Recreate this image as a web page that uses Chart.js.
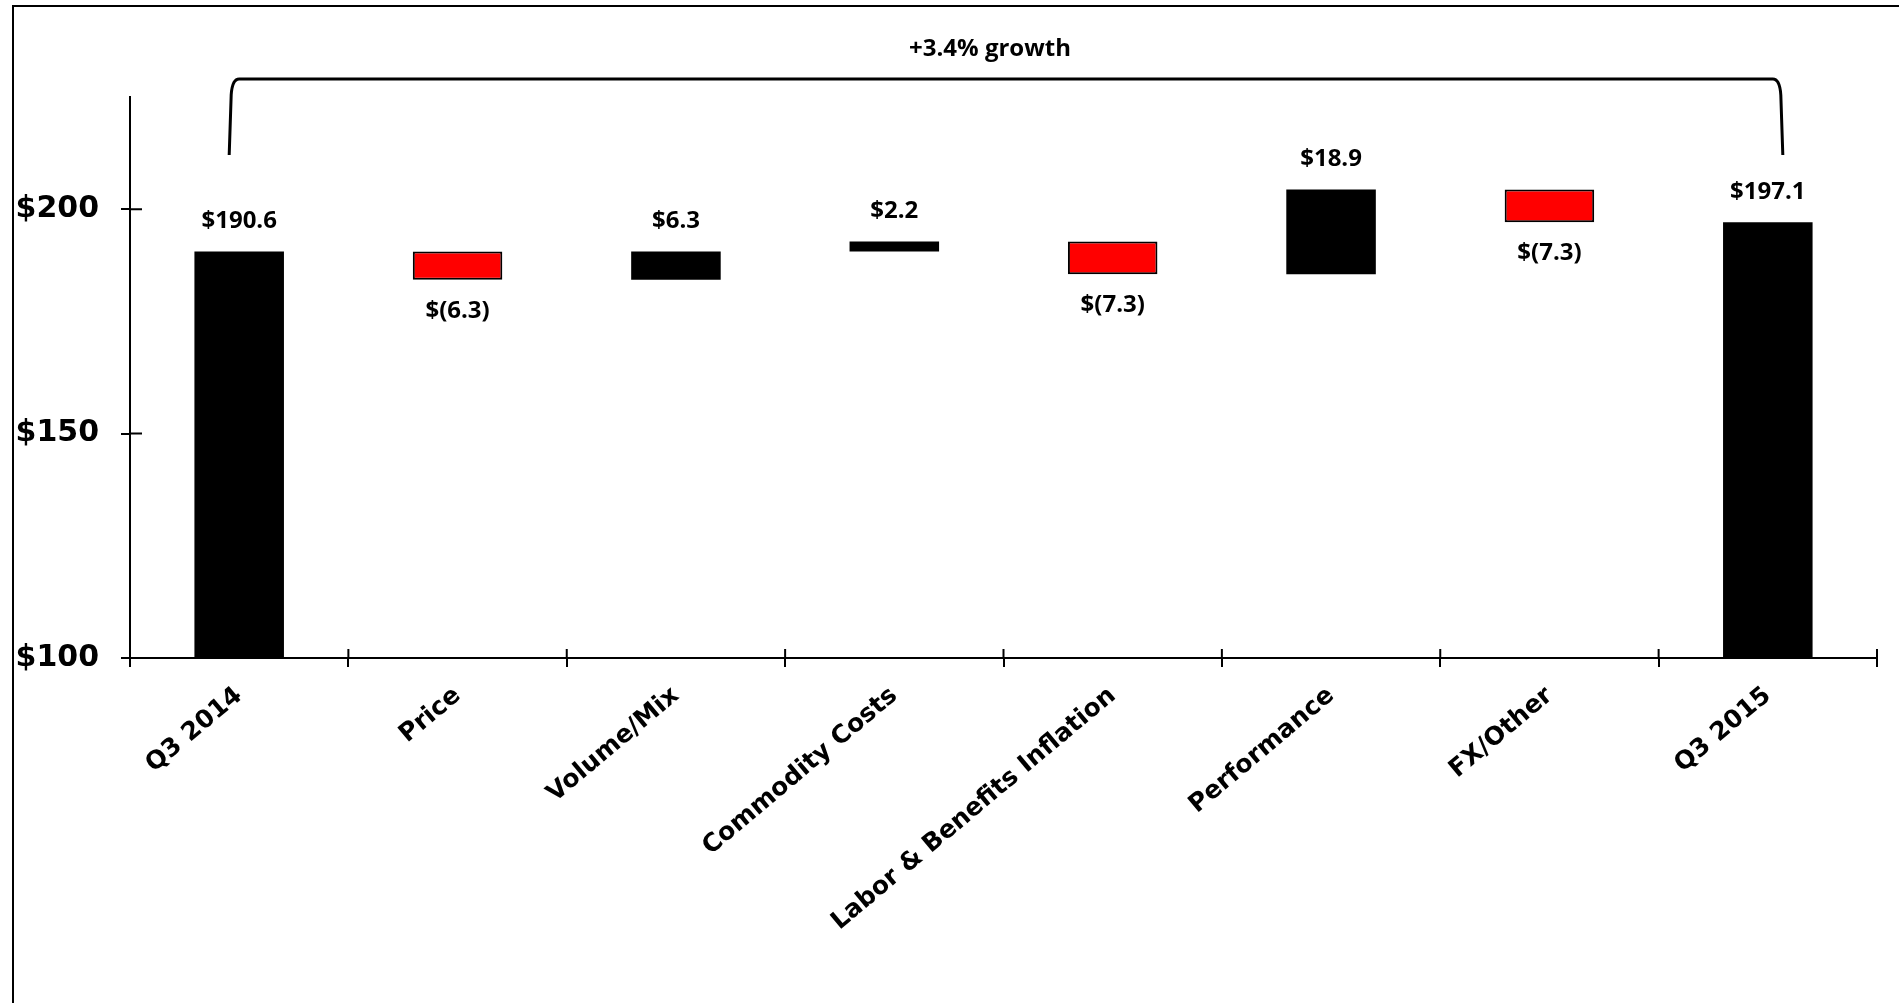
<!DOCTYPE html>
<html>
<head>
<meta charset="utf-8">
<title>Q3 2014 to Q3 2015 bridge</title>
<script src="https://cdn.jsdelivr.net/npm/chart.js@4.4.1/dist/chart.umd.min.js"></script>
<style>
  html, body { margin: 0; padding: 0; background: #ffffff; }
  #chart { display: block; }
</style>
</head>
<body>
<canvas id="chart" width="1899" height="1003"></canvas>
<script>
// Bridge steps
const categories = ["Q3 2014", "Price", "Volume/Mix", "Commodity Costs", "Labor & Benefits Inflation", "Performance", "FX/Other", "Q3 2015"];
const amounts = [190.6, -6.3, 6.3, 2.2, -7.3, 18.9, -7.3, 197.1];
const isTotal = [true, false, false, false, false, false, false, true];
const yTicks = [100, 150, 200];
const yMin = 100;
const yMax = 225;
const growthText = "+3.4% growth";

const labelFont = "bold 24px 'Open Sans', 'Noto Sans', sans-serif";

// Build the floating ranges of the waterfall
let ranges = [];
let running = 0;
for (let i = 0; i < amounts.length; i++) {
  if (isTotal[i]) {
    ranges.push([yMin, amounts[i]]);
    running = amounts[i];
  } else {
    ranges.push([running, running + amounts[i]]);
    running = running + amounts[i];
  }
}

let colors = amounts.map(function (v, i) {
  return (!isTotal[i] && v < 0) ? "#ff0000" : "#000000";
});
let borders = amounts.map(function (v, i) {
  return (!isTotal[i] && v < 0) ? 2 : 0;
});

function labelFor(i) {
  let v = amounts[i];
  if (v < 0) return "$(" + Math.abs(v).toFixed(1) + ")";
  return "$" + v.toFixed(1);
}

// Value labels, inner tick halves, bracket and frame
const extrasPlugin = {
  id: "extras",
  afterDatasetsDraw: function (chart) {
    const ctx = chart.ctx;
    const meta = chart.getDatasetMeta(0);
    ctx.save();
    ctx.fillStyle = "#000000";
    ctx.font = labelFont;
    ctx.textAlign = "center";
    ctx.textBaseline = "middle";
    meta.data.forEach(function (bar, i) {
      let top = Math.min(bar.y, bar.base);
      let bottom = Math.max(bar.y, bar.base);
      if (!isTotal[i] && amounts[i] < 0) {
        ctx.fillText(labelFor(i), bar.x, bottom + 31);
      } else {
        ctx.fillText(labelFor(i), bar.x, top - 30);
      }
    });
    ctx.restore();
  },
  afterDraw: function (chart) {
    const ctx = chart.ctx;
    const area = chart.chartArea;
    const xs = chart.scales.x;
    const ys = chart.scales.y;
    ctx.save();
    ctx.strokeStyle = "#000000";
    ctx.lineWidth = 2;

    // tick marks crossing into the plot
    ctx.beginPath();
    yTicks.forEach(function (v) {
      let py = ys.getPixelForValue(v);
      ctx.moveTo(area.left, py);
      ctx.lineTo(area.left + 12, py);
    });
    for (let i = 0; i <= categories.length; i++) {
      let px = xs.left + i * xs.width / categories.length;
      ctx.moveTo(px, area.bottom);
      ctx.lineTo(px, area.bottom - 9);
    }
    ctx.stroke();

    // outer frame (left and top edges)
    ctx.beginPath();
    ctx.moveTo(13, chart.height);
    ctx.lineTo(13, 6);
    ctx.lineTo(chart.width, 6);
    ctx.stroke();

    // growth bracket
    let xl = xs.getPixelForValue(0) - 10;
    let xr = xs.getPixelForValue(categories.length - 1) + 15;
    let yt = area.top - 18;
    let yb = area.top + 58;
    ctx.lineWidth = 3;
    ctx.beginPath();
    ctx.moveTo(xl, yb);
    ctx.lineTo(xl + 2, yt + 16);
    ctx.quadraticCurveTo(xl + 3, yt, xl + 10, yt);
    ctx.lineTo(xr - 10, yt);
    ctx.quadraticCurveTo(xr - 3, yt, xr - 2, yt + 16);
    ctx.lineTo(xr, yb);
    ctx.stroke();

    ctx.fillStyle = "#000000";
    ctx.font = labelFont;
    ctx.textAlign = "center";
    ctx.textBaseline = "middle";
    ctx.fillText(growthText, (xl + xr) / 2 - 16, area.top - 48);
    ctx.restore();
  }
};

new Chart(document.getElementById("chart").getContext("2d"), {
  type: "bar",
  data: {
    labels: categories,
    datasets: [
      {
        data: ranges,
        backgroundColor: colors,
        borderColor: "#000000",
        borderWidth: borders,
        borderSkipped: false,
        categoryPercentage: 1,
        barPercentage: 0.41
      }
    ]
  },
  options: {
    responsive: false,
    animation: false,
    layout: { padding: { left: 0, top: 97, right: 22, bottom: 0 } },
    plugins: {
      legend: { display: false },
      tooltip: { enabled: false }
    },
    scales: {
      x: {
        grid: { drawOnChartArea: false, drawTicks: true, tickLength: 9, color: "#000000", lineWidth: 2 },
        border: { display: true, color: "#000000", width: 2 },
        ticks: {
          autoSkip: false,
          minRotation: 40,
          maxRotation: 40,
          padding: 14,
          color: "#000000",
          font: { family: "'DejaVu Sans'", weight: "bold", size: 25 }
        },
        afterFit: function (scale) { scale.height = 345; }
      },
      y: {
        min: yMin,
        max: yMax,
        grid: { drawOnChartArea: false, drawTicks: true, tickLength: 9, color: "#000000", lineWidth: 2 },
        border: { display: true, color: "#000000", width: 2 },
        afterBuildTicks: function (scale) {
          scale.ticks = yTicks.map(function (v) { return { value: v }; });
        },
        ticks: {
          padding: 22,
          color: "#000000",
          font: { family: "'DejaVu Sans'", weight: "bold", size: 30 },
          callback: function (v) { return "$" + v; }
        },
        afterFit: function (scale) { scale.width = 130; }
      }
    }
  },
  plugins: [extrasPlugin]
});
</script>
</body>
</html>
